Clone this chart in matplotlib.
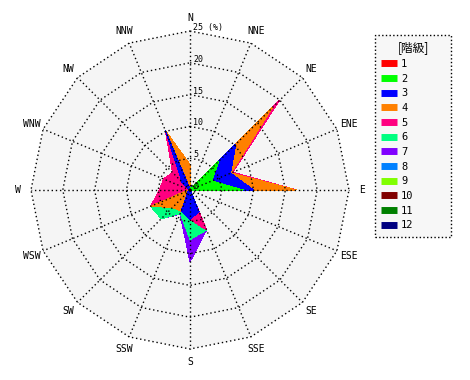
import numpy as np
import matplotlib
matplotlib.use("Agg")
import matplotlib.pyplot as plt
from matplotlib.lines import Line2D

# 方位 (N から時計回り)
directions = ["N", "NNE", "NE", "ENE", "E", "ESE", "SE", "SSE",
              "S", "SSW", "SW", "WSW", "W", "WNW", "NW", "NNW"]

# 階級ごとの出現率 (%)
class1 = [0, 0, 0, 0, 0, 0, 0, 0, 0, 0, 0, 0, 0, 0, 0, 0]
class2 = [0.2, 0.3, 6.4, 3.7, 8.4, 0.1, 0, 0, 0, 0, 0, 0, 0, 0, 0, 0.2]
class3 = [0, 0, 3.8, 3.2, 1.6, 0, 0.1, 3.7, 4.6, 3.6, 0.5, 0.3, 0.2, 0.2, 1.8, 9.9]
class4 = [3.8, 0, 8.1, 0.1, 6.8, 0, 0, 0, 0, 0, 3.4, 6.4, 0.1, 0.1, 0, 0]
class5 = [0, 0, 1.5, 0.3, 0, 0, 0, 3.1, 0, 0, 0, 0, 4.5, 4.2, 2.1, 0]
class6 = [0, 0, 0, 0, 0, 0, 0, 0, 3.2, 0.4, 2.5, 0, 0, 0, 0, 0]
class7 = [0, 0, 0, 0, 0, 0, 0, 0, 3.5, 0.1, 0, 0, 0, 0, 0, 0]
class8 = [0] * 16
class9 = [0] * 16
class10 = [0] * 16
class11 = [0] * 16
class12 = [0] * 16

class_labels = ["1", "2", "3", "4", "5", "6", "7", "8", "9", "10", "11", "12"]
class_colors = ["#ff0000", "#00ff00", "#0000ff", "#ff8000", "#ff0080", "#00ff80",
                "#8000ff", "#0080ff", "#80ff00", "#800000", "#008000", "#000080"]

rings = [5, 10, 15, 20, 25]
rmax = 25

data = np.array([class1, class2, class3, class4, class5, class6,
                 class7, class8, class9, class10, class11, class12])
cum = np.cumsum(data, axis=0)

theta = np.deg2rad(np.arange(16) * 22.5)
sx, sy = np.sin(theta), np.cos(theta)

ppu = 159 / rmax  # 1% あたりのピクセル
fig = plt.figure(figsize=(4.7, 3.8), dpi=100)
ax = fig.add_axes([0, 0, 1, 1])
ax.set_xlim(-190 / ppu, 280 / ppu)
ax.set_ylim(-190 / ppu, 190 / ppu)
ax.axis("off")

# 背景
ax.fill(rmax * sx, rmax * sy, color="#f5f5f5", lw=0, zorder=0)

# 累積多角形 (外側の階級から描く)
for k in range(11, -1, -1):
    r = cum[k]
    if r.max() <= 0:
        continue
    ax.fill(r * sx, r * sy, color=class_colors[k], lw=0, zorder=1,
            antialiased=False)

# グリッド
dots = (0, (1, 2))
for r in rings:
    ax.plot(np.append(r * sx, r * sx[0]), np.append(r * sy, r * sy[0]),
            color="black", lw=1, ls=dots, zorder=2)
for i in range(16):
    ax.plot([0, rmax * sx[i]], [0, rmax * sy[i]], color="black", lw=1,
            ls=dots, zorder=2)

# 方位ラベル
for i, d in enumerate(directions):
    ax.text(27.0 * sx[i], 27.0 * sy[i], d, ha="center", va="center",
            fontsize=7, family="DejaVu Sans Mono", zorder=3)

# 目盛ラベル
for r in [0] + rings:
    s = "25 (%)" if r == 25 else str(r)
    ax.text(0.55, r + 0.55, s, ha="left", va="center", fontsize=6,
            family="DejaVu Sans Mono", zorder=3)

# 凡例
handles = [Line2D([], [], color=c, lw=5, solid_capstyle="butt") for c in class_colors]
leg = fig.legend(handles, class_labels, loc="upper left", mode="expand",
                 bbox_to_anchor=(375 / 470, 1 - 243 / 380, 76 / 470, 208 / 380),
                 bbox_transform=fig.transFigure, borderaxespad=0,
                 title="[階級]",
                 title_fontproperties={"family": ["Noto Sans CJK JP", "DejaVu Sans"], "size": 8.5},
                 prop={"family": "DejaVu Sans Mono", "size": 7.5},
                 handlelength=1.55, handletextpad=0.35, labelspacing=0.45,
                 borderpad=0.6, fancybox=False, framealpha=1)
frame = leg.get_frame()
frame.set_facecolor("#f7f7f7")
frame.set_edgecolor("black")
frame.set_linestyle(":")
frame.set_linewidth(1)

plt.savefig("out.png", dpi=100)
